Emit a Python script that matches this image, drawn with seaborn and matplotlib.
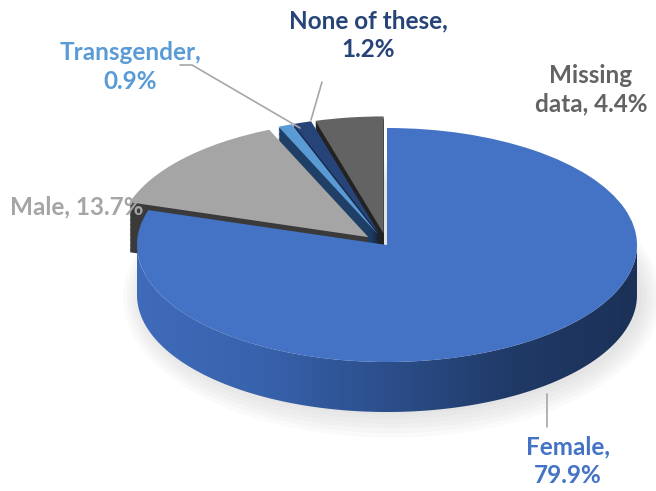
import numpy as np
import matplotlib.pyplot as plt
from matplotlib.patches import Polygon, Ellipse
from matplotlib.colors import LinearSegmentedColormap
import seaborn as sns

# data
categories = ["Female", "Male", "Transgender", "None of these", "Missing data"]
shares = [79.9, 13.7, 0.9, 1.2, 4.4]
label_texts = ["Female,\n79.9%", "Male, 13.7%", "Transgender,\n0.9%",
               "None of these,\n1.2%", "Missing\ndata, 4.4%"]
top_colors = ["#4472C4", "#A5A5A5", "#5B9BD5", "#264478", "#636363"]
side_colors = ["#2F5597", "#3A3A3A", "#1F3F66", "#17294A", "#222222"]
label_colors = ["#4472C4", "#A5A5A5", "#5B9BD5", "#264478", "#636363"]
explode = [0, 0.1, 0.1, 0.1, 0.1]

sns.set_theme(style="white")
plt.rcParams["font.family"] = ["Lato", "DejaVu Sans"]

# pixel layout of the tilted pie
W, H = 656, 491
CX, CY, A, B = 387, 245, 250, 117
DEPTH = 50


def px(x, y):
    return ((x - CX) / A, (CY - y) / B)


fig = plt.figure(figsize=(W / 100, H / 100), dpi=100)
ax = fig.add_axes([0, 0, 1, 1])
d = DEPTH / B
pie_kw = dict(startangle=90, counterclock=False, explode=explode, radius=1,
              wedgeprops=dict(linewidth=0))

# soft shadow
for i in range(6):
    ax.add_patch(Ellipse((0.02, -d - 0.02), 2.0 + 0.03 * i, 2.0 + 0.08 * i,
                         facecolor="#7f7f7f", alpha=0.035, linewidth=0, zorder=0))

# side layers of the back slices
for off in np.linspace(d, 0, 40, endpoint=False):
    wedges = ax.pie(shares, colors=side_colors, center=(0, -off), **pie_kw)[0]
    wedges[0].set_visible(False)
    for w in wedges:
        w.set_zorder(1)

# top faces
tops = ax.pie(shares, colors=top_colors, **pie_kw)[0]
for i, w in enumerate(tops):
    w.set_zorder(4 if i == 0 else 2)

# front side of the big slice with a horizontal shading
t = np.linspace(np.pi, 2 * np.pi, 300)
arc = np.c_[np.cos(t), np.sin(t)]
band = Polygon(np.vstack([arc, arc[::-1] - [0, d]]), closed=True,
               transform=ax.transData, facecolor="none", edgecolor="none")
cmap = LinearSegmentedColormap.from_list(
    "side", ["#3F6BBA", "#3762AC", "#2C4E8B", "#203A67", "#1B3157"])
im = ax.imshow(np.linspace(0, 1, 256).reshape(1, -1), extent=[-1, 1, -1 - d, 0],
               cmap=cmap, aspect="auto", zorder=3, interpolation="bicubic")
im.set_clip_path(band)

# labels
label_pos = [(568, 461), (77, 207), (130, 67), (368, 35), (591, 90)]
for txt, col, (lx, ly) in zip(label_texts, label_colors, label_pos):
    ax.text(*px(lx, ly), txt, color=col, fontsize=17.5, fontweight="bold",
            ha="center", va="center", multialignment="center",
            linespacing=1.3, zorder=6)

leaders = [[(547, 394), (547, 427)],
           [(180, 65), (192, 65), (300, 128)],
           [(322, 82), (311, 120)]]
for pts in leaders:
    xy = np.array([px(x, y) for x, y in pts])
    ax.plot(xy[:, 0], xy[:, 1], color="#A6A6A6", lw=1.2, zorder=5)

ax.set_aspect("auto")
ax.set_xlim(px(0, 0)[0], px(W, 0)[0])
ax.set_ylim(px(0, H)[1], px(0, 0)[1])
ax.axis("off")
fig.savefig("out.png", dpi=100)
